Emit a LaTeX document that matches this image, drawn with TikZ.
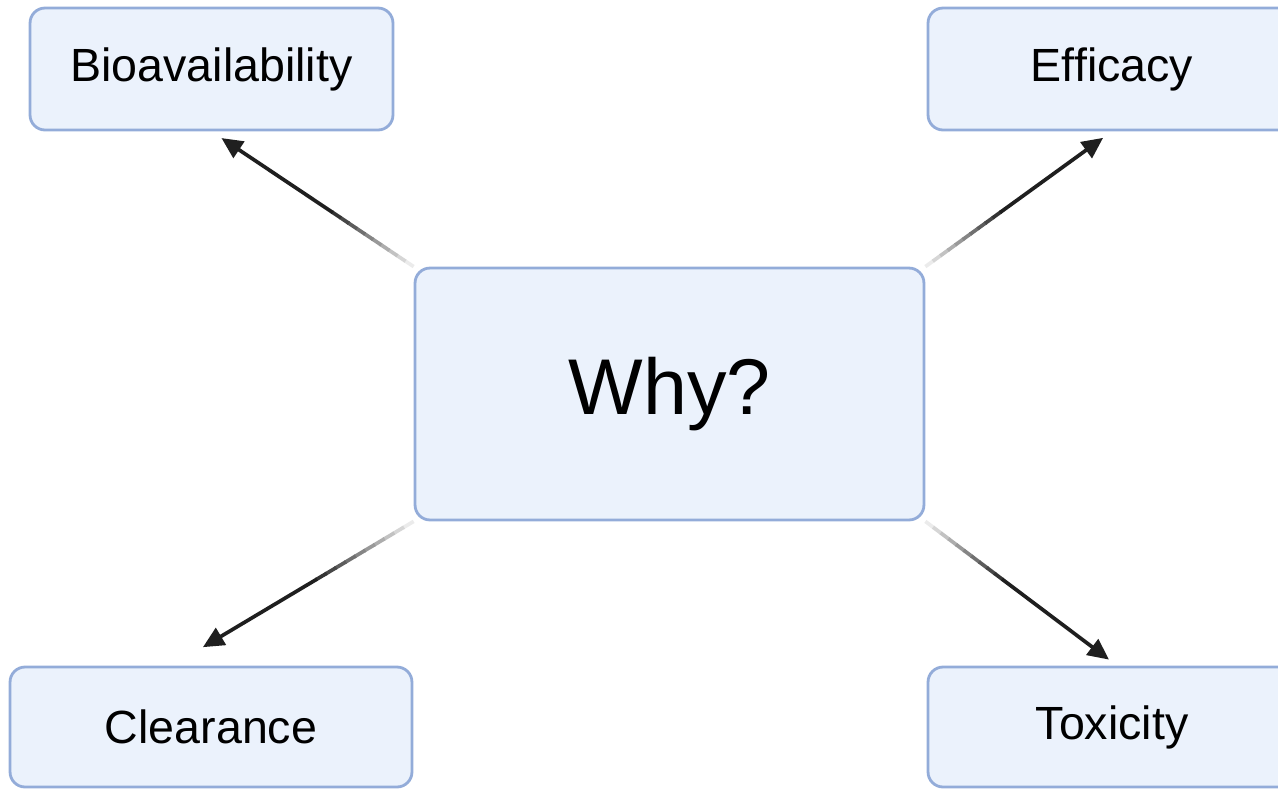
\documentclass[tikz,border=0pt]{standalone}
\usepackage{fontspec}
\setmainfont{Liberation Sans}
\usetikzlibrary{arrows.meta,calc}
\definecolor{boxfill}{HTML}{EBF2FC}
\definecolor{boxline}{HTML}{93ACD9}
% #1 start, #2 end, #3 gap before the end
\newcommand{\fadearrow}[3]{%
\foreach \i in {0,...,9} {
  \pgfmathsetmacro\a{\i*0.04}
  \pgfmathsetmacro\b{\a+0.045}
  \pgfmathsetmacro\c{8+\i*8}
  \draw[link, black!\c] ($(#1)!\a!(#2)$) -- ($(#1)!\b!(#2)$);
}
\draw[link, black!88, -{Triangle[length=12pt,width=11pt]}, shorten >=#3] ($(#1)!0.4!(#2)$) -- (#2);
}
\begin{document}
\begin{tikzpicture}[x=0.02cm, y=-0.02cm,
  main/.style = {draw=boxline, fill=boxfill, line width=1.6pt, rounded corners=0.3cm, font=\fontsize{26.5}{30}\selectfont},
  link/.style = {line width=2.1pt}]
\clip (0,0) rectangle (1278,789);
\node[main, minimum width=7.26cm, minimum height=2.44cm] (bio) at (211.5,69) {Bioavailability};
\node[main, minimum width=7.36cm, minimum height=2.44cm] (eff) at (1112,69) {Efficacy};
\node[main, minimum width=10.18cm, minimum height=5.04cm, font=\fontsize{45}{54}\selectfont] (why) at (669.5,394) {Why?};
\node[main, minimum width=8.04cm, minimum height=2.4cm] (clr) at (211,727) {Clearance};
\node[main, minimum width=7.36cm, minimum height=2.4cm] (tox) at (1112,727) {Toxicity};
\fadearrow{why.north west}{bio.south}{0.24cm}
\fadearrow{why.north east}{eff.south}{0.22cm}
\fadearrow{why.south west}{[xshift=-0.78cm]clr.north}{0.72cm}
\fadearrow{why.south east}{[xshift=0.1cm]tox.north}{0.2cm}
\end{tikzpicture}
\end{document}
